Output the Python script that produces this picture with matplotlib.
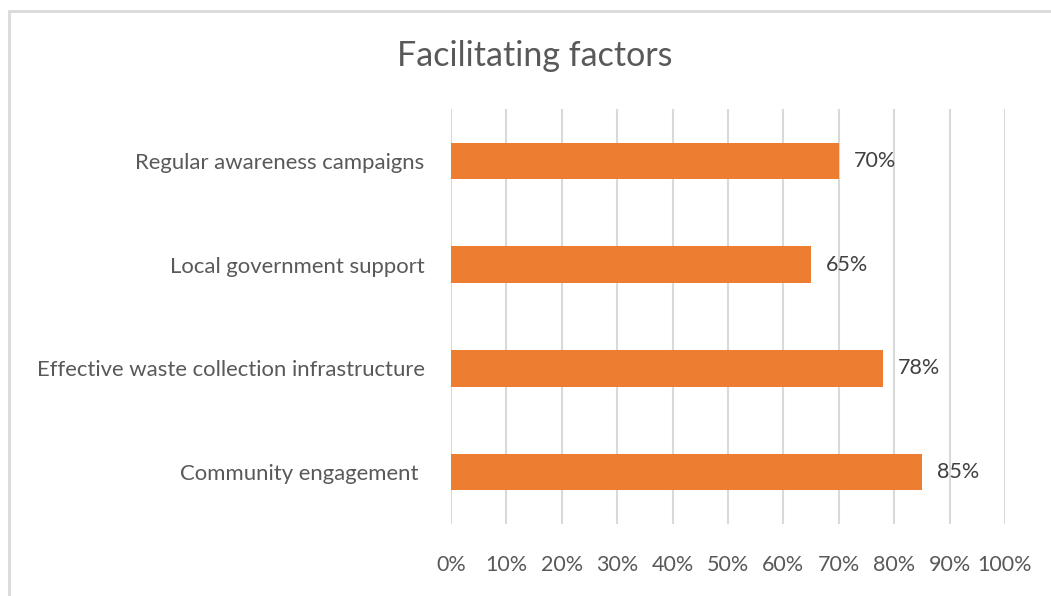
import matplotlib.pyplot as plt
from matplotlib.patches import Rectangle
from matplotlib.ticker import FuncFormatter, MultipleLocator

plt.rcParams['font.family'] = ['Lato', 'DejaVu Sans']

factors = ['Community engagement ',
           'Effective waste collection infrastructure',
           'Local government support',
           'Regular awareness campaigns']
shares = [85, 78, 65, 70]

bar_color = '#ED7D31'
text_color = '#595959'
grid_color = '#D9D9D9'

fig = plt.figure(figsize=(10.51, 5.96), dpi=100)
# light frame round the chart area
fig.patches.append(Rectangle((8.5 / 1051, -0.05), 1.2, 1 - 10.5 / 596 + 0.05,
                             transform=fig.transFigure, fill=False,
                             edgecolor=grid_color, linewidth=2))

ax = fig.add_axes([451 / 1051, 1 - 524 / 596, 554 / 1051, 415 / 596])
pos = range(len(factors))
bars = ax.barh(pos, shares, height=0.35, color=bar_color, zorder=3)

for b, v in zip(bars, shares):
    ax.text(b.get_width() + 2.7, b.get_y() + b.get_height() / 2, f'{v}%',
            va='center', ha='left', fontsize=15.5, color='#404040')

ax.set_xlim(0, 100)
ax.set_ylim(-0.5, len(factors) - 0.5)
ax.xaxis.set_major_locator(MultipleLocator(10))
ax.xaxis.set_major_formatter(FuncFormatter(lambda x, _: f'{x:.0f}%'))
ax.set_yticks(list(pos))
ax.set_yticklabels(factors)
ax.tick_params(axis='both', length=0, labelsize=15.5, labelcolor=text_color)
ax.tick_params(axis='y', labelsize=15.9, pad=19)
ax.tick_params(axis='x', pad=22)
ax.grid(axis='x', color=grid_color, linewidth=1.5, zorder=0)
for s in ax.spines.values():
    s.set_visible(False)

fig.text(535 / 1051, 1 - 56 / 596, 'Facilitating factors', ha='center',
         va='center', fontsize=24.5, color=text_color)

fig.savefig('out.png', dpi=100)
